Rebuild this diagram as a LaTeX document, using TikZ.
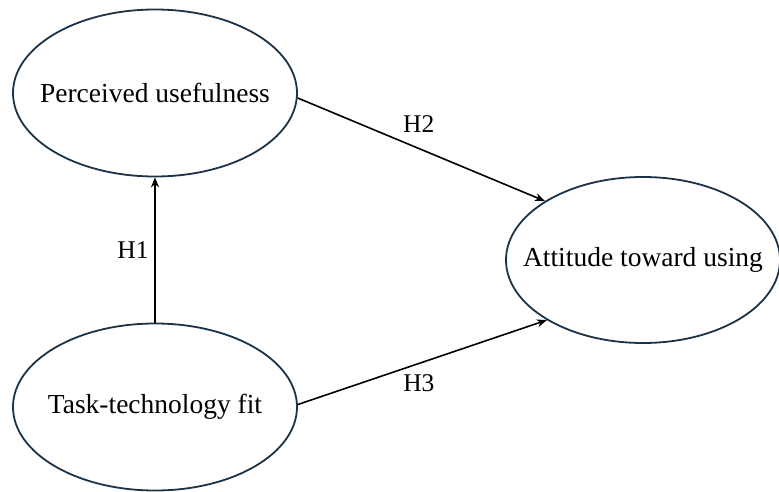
\documentclass[tikz,border=0pt]{standalone}
\usepackage{fontspec}
\setmainfont{Liberation Serif}
\usetikzlibrary{shapes.geometric,arrows.meta}
\definecolor{edgeblue}{HTML}{1C3347}
\begin{document}
\begin{tikzpicture}[x=1pt,y=1pt,
  construct/.style={ellipse,draw=edgeblue,line width=1.8pt,inner xsep=-50pt,inner ysep=0pt,font=\fontsize{27.5}{32}\selectfont},
  path/.style={-{Stealth[length=10pt,width=8pt]},line width=1.6pt,black},
  hlabel/.style={font=\fontsize{25.5}{30}\selectfont,inner sep=0pt}]
\useasboundingbox (0,0) rectangle (779,491);
\node[construct,minimum width=284pt,minimum height=167pt] (pu) at (155,398) {Perceived usefulness};
\node[construct,minimum width=284pt,minimum height=167pt] (ttf) at (155,84) {Task-technology fit};
\node[construct,minimum width=274pt,minimum height=166pt] (atu) at (643,231) {Attitude toward using};
\draw[path] (ttf.north) -- (pu.south) node[hlabel,pos=0.5,xshift=-22pt] (h1) {H1};
\draw[path] (pu.-2) -- (atu.149.6) node[hlabel,pos=0.49,yshift=24pt] (h2) {H2};
\draw[path] (ttf.1) -- (atu.212.6) node[hlabel,pos=0.486,yshift=-20pt] (h3) {H3};
\end{tikzpicture}
\end{document}
